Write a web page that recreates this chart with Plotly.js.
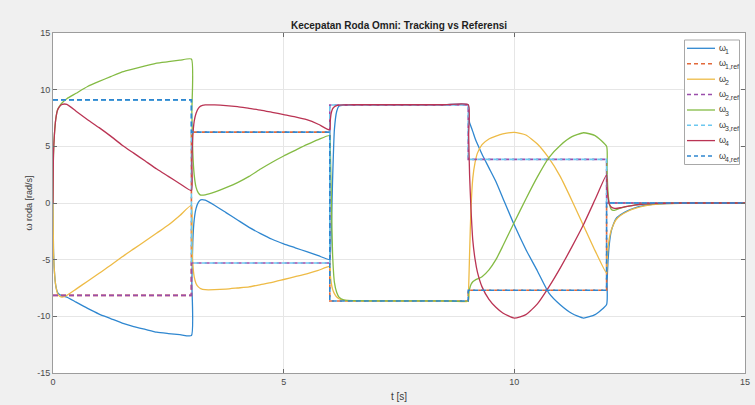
<!DOCTYPE html>
<html><head><meta charset="utf-8">
<script src="https://cdn.plot.ly/plotly-3.0.1.min.js"></script>
<style>html,body{margin:0;padding:0;background:#f0f0f0;}#chart{width:755px;height:405px;}</style>
</head><body><div id="chart"></div>
<script>
// time samples [s]
const t = [
  0,0.01,0.03,0.06,0.1,0.15,0.2,0.3,0.5,0.75,1,1.25,1.5,1.75,2,2.25,2.5,2.75,3,
  3.01,3.03,3.06,3.1,3.15,3.2,3.3,3.5,3.75,4,4.25,4.5,4.75,5,5.25,5.5,5.75,6,
  6.01,6.03,6.06,6.1,6.15,6.2,6.3,6.5,7,7.5,8,8.5,9,
  9.01,9.03,9.06,9.1,9.15,9.2,9.3,9.45,9.6,9.75,10,10.25,10.5,10.75,11,11.25,11.5,11.75,12,
  12.01,12.03,12.06,12.1,12.15,12.2,12.3,12.45,12.6,12.8,13,13.3,13.6,14,15
];
const w1 = [
  0,-4.0,-6.0,-7.3,-7.9,-8.1,-8.2,-8.3,-8.75,-9.3,-9.8,-10.2,-10.6,-10.9,-11.15,-11.4,-11.52,-11.62,-11.7,
  -7.0,-3.5,-1.5,-0.5,0.05,0.28,0.25,-0.2,-0.85,-1.5,-2.15,-2.7,-3.2,-3.6,-3.95,-4.3,-4.65,-5.0,
  -4.7,-2.8,2.0,6.5,8.1,8.55,8.64,8.67,8.67,8.67,8.67,8.67,8.67,
  7.9,7.1,6.75,6.3,5.7,5.2,4.3,3.1,1.9,0.45,-1.95,-4.1,-6.0,-7.95,-9.0,-9.75,-10.15,-9.85,-8.95,
  -7.0,-5.2,-3.6,-2.5,-1.85,-1.4,-1.05,-0.7,-0.45,-0.24,-0.13,-0.05,-0.02,0,0
];
const w2 = [
  0,-4.0,-6.0,-7.3,-8.0,-8.25,-8.3,-8.15,-7.6,-6.9,-6.2,-5.5,-4.75,-4.05,-3.35,-2.65,-1.95,-1.1,-0.2,
  -3.0,-5.3,-6.5,-7.1,-7.4,-7.55,-7.65,-7.65,-7.6,-7.5,-7.4,-7.2,-7.0,-6.75,-6.5,-6.25,-5.95,-5.6,
  -6.3,-7.0,-7.6,-8.0,-8.3,-8.45,-8.58,-8.63,-8.64,-8.64,-8.64,-8.64,-8.64,
  -7.5,-4.5,-0.5,2.2,3.6,4.4,5.15,5.65,5.9,6.1,6.23,6.0,5.2,3.95,2.3,0.2,-2.0,-4.2,-6.2,
  -5.0,-4.0,-3.1,-2.4,-1.9,-1.5,-1.1,-0.75,-0.5,-0.27,-0.15,-0.06,-0.02,0,0
];
const w3 = [
  0,4.2,6.0,7.4,8.25,8.6,8.85,9.2,9.68,10.28,10.73,11.15,11.57,11.84,12.09,12.35,12.47,12.6,12.7,
  8.0,4.5,2.5,1.4,0.9,0.7,0.72,0.95,1.35,1.8,2.35,3.0,3.6,4.15,4.65,5.15,5.6,5.95,
  5.0,1.0,-4.5,-7.0,-7.9,-8.3,-8.55,-8.62,-8.63,-8.63,-8.63,-8.63,-8.63,
  -8.0,-7.6,-7.2,-6.95,-6.8,-6.7,-6.5,-5.9,-5.0,-3.8,-1.7,0.35,2.3,4.0,5.1,5.85,6.2,5.95,5.0,
  3.0,1.0,-0.1,-0.55,-0.65,-0.6,-0.45,-0.3,-0.18,-0.09,-0.05,-0.02,0,0,0
];
const w4 = [
  0,4.2,6.0,7.4,8.2,8.55,8.7,8.7,8.1,7.35,6.65,5.9,5.1,4.4,3.7,3.0,2.35,1.7,1.1,
  3.5,5.8,7.2,7.9,8.35,8.55,8.65,8.65,8.6,8.5,8.35,8.2,8.0,7.8,7.6,7.35,6.95,6.45,
  7.2,7.9,8.3,8.5,8.6,8.64,8.66,8.67,8.67,8.67,8.67,8.67,8.67,
  6.0,2.5,-0.5,-3.3,-5.0,-6.1,-7.4,-8.5,-9.2,-9.7,-10.15,-9.85,-8.9,-7.4,-5.7,-3.85,-1.9,0.3,2.5,
  1.5,0.5,-0.1,-0.35,-0.45,-0.48,-0.42,-0.3,-0.18,-0.09,-0.05,-0.02,0,0,0
];
// reference (piecewise constant)
const refT  = [0,3,3,6,6,9,9,12,12,15];
const w1ref = [-8.15,-8.15,6.25,6.25,-8.65,-8.65,-7.7,-7.7,0,0];
const w2ref = [-8.15,-8.15,-5.3,-5.3,8.65,8.65,3.85,3.85,0,0];
const w3ref = [9.1,9.1,-5.3,-5.3,8.65,8.65,3.85,3.85,0,0];
const w4ref = [9.1,9.1,6.25,6.25,-8.65,-8.65,-7.7,-7.7,0,0];

// legend labels: symbol + subscript
const legendSymbol = 'ω';
const legendSubs = ['1','1,ref','2','2,ref','3','3,ref','4','4,ref'];
const xTicks = [0,5,10,15];
const yTicks = [-15,-10,-5,0,5,10,15];

const colors = ['#2F87D0','#E2693A','#EEBB46','#9A4EAB','#84BB44','#6CC8F0','#BA3454','#2F87D0'];
const series = [
  {x:t, y:w1}, {x:refT, y:w1ref},
  {x:t, y:w2}, {x:refT, y:w2ref},
  {x:t, y:w3}, {x:refT, y:w3ref},
  {x:t, y:w4}, {x:refT, y:w4ref}
];
const FONT = 'Liberation Sans, Arial, sans-serif';
const traces = series.map((s,i)=>{
  const isRef = i%2===1;
  return {x:s.x, y:s.y, type:'scatter', mode:'lines', name:legendSymbol+legendSubs[i], showlegend:false,
    line:isRef ? {color:colors[i], width:1.6, dash:'5px,3px'}
               : {color:colors[i], width:1.3, shape:'spline', smoothing:0.5}};
});

// manual legend (MATLAB-style box)
const L = 53, R = 745, T = 33, B = 373;
const px = v => (v-L)/(R-L);
const py = v => (B-v)/(B-T);
const shapes = [{type:'rect', xref:'paper', yref:'paper', x0:px(684.5), x1:px(739.5), y0:py(164.5), y1:py(40),
  fillcolor:'#ffffff', line:{color:'#a8a8a8', width:1}, layer:'above'}];
const annotations = [];
const rowY = [48.3,63.7,79.2,94.5,110,125.3,140.6,156];
legendSubs.forEach((sub,i)=>{
  const isRef = i%2===1;
  shapes.push({type:'line', xref:'paper', yref:'paper', x0:px(687), x1:px(715), y0:py(rowY[i]), y1:py(rowY[i]),
    line:{color:colors[i], width:isRef?1.6:1.3, dash:isRef?'4px,3px':'solid'}, layer:'above'});
  annotations.push({xref:'paper', yref:'paper', x:px(716.5), y:py(rowY[i]-0.5), xanchor:'left', yanchor:'middle',
    text:legendSymbol, showarrow:false, font:{family:FONT, size:9, color:'#3a3a3a'}});
  annotations.push({xref:'paper', yref:'paper', x:px(722.5), y:py(rowY[i]+3), xanchor:'left', yanchor:'middle',
    text:sub, showarrow:false, font:{family:FONT, size:7, color:'#3a3a3a'}});
});

const axisCommon = {showline:true, mirror:'ticks', linecolor:'#9c9c9c', linewidth:1, ticks:'inside', ticklen:4,
  tickcolor:'#6a6a6a', showgrid:true, gridcolor:'#e6e6e6', gridwidth:1, zeroline:false,
  tickfont:{family:FONT, size:9, color:'#4a4a4a'}};

const layout = {
  width:755, height:405,
  paper_bgcolor:'#f0f0f0', plot_bgcolor:'#ffffff',
  margin:{l:L, r:755-R, t:T, b:405-B, pad:0},
  title:{text:'<b>Kecepatan Roda Omni: Tracking vs Referensi</b>', x:0.5, xref:'paper', xanchor:'center',
    y:1-25/405, yref:'container', yanchor:'middle',
    font:{family:FONT, size:10, color:'#1e1e1e'}},
  xaxis:Object.assign({}, axisCommon, {range:[0,15], tickvals:xTicks, ticktext:xTicks.map(String),
    title:{text:'t [s]', standoff:7, font:{family:FONT, size:10, color:'#3a3a3a'}}}),
  yaxis:Object.assign({}, axisCommon, {range:[-15,15], tickvals:yTicks, ticktext:yTicks.map(String),
    title:{text:'ω roda [rad/s]', standoff:3, font:{family:FONT, size:9, color:'#3a3a3a'}}}),
  shapes:shapes, annotations:annotations, showlegend:false
};
Plotly.newPlot('chart', traces, layout, {staticPlot:true, displayModeBar:false});
</script></body></html>
